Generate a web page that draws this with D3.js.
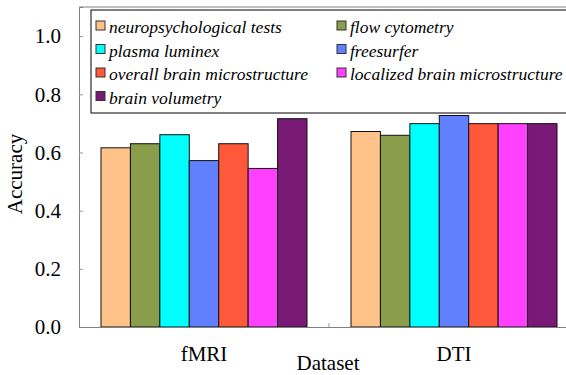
<!DOCTYPE html>
<html>
<head>
<script src="https://d3js.org/d3.v7.min.js"></script>
<style>
  body { margin: 0; background: #fff; }
  svg text { font-family: "Liberation Serif", "Times New Roman", Times, "DejaVu Serif", serif; }
</style>
</head>
<body>
<svg width="566" height="375"></svg>
<script>
var datasets = ["fMRI", "DTI"];
var features = ["neuropsychological tests", "flow cytometry", "plasma luminex", "freesurfer",
                "overall brain microstructure", "localized brain microstructure", "brain volumetry"];
var colors = ["#ffc38a", "#8a9d4a", "#00ffff", "#6080ff", "#ff583a", "#ff40ff", "#7a1a77"];
var fmriAcc = [0.616, 0.630, 0.661, 0.572, 0.630, 0.545, 0.716];
var dtiAcc  = [0.672, 0.659, 0.699, 0.727, 0.699, 0.699, 0.699];
var yTicks = [0, 0.2, 0.4, 0.6, 0.8, 1.0];

var values = { fMRI: fmriAcc, DTI: dtiAcc };

var svg = d3.select("svg");
var margin = {top: 7, left: 79},
    width = 500, height = 320;
var g = svg.append("g").attr("transform", "translate(" + margin.left + "," + margin.top + ")");

var x0 = d3.scaleBand().domain(datasets).range([0, width]).paddingOuter(0.088).paddingInner(0.176);
var x1 = d3.scaleBand().domain(features).range([0, x0.bandwidth()]);
var y = d3.scaleLinear().domain([0, 1.1]).range([height, 0]);

// frame
g.append("line").attr("x1", 0).attr("x2", width).attr("y1", 0).attr("y2", 0).attr("stroke", "#808080");
g.append("line").attr("x1", width).attr("x2", width).attr("y1", 0).attr("y2", height).attr("stroke", "#808080");

// bars
datasets.forEach(function(ds) {
  g.append("g").selectAll("rect")
    .data(values[ds])
    .enter().append("rect")
    .attr("x", function(d, i) { return x0(ds) + x1(features[i]); })
    .attr("y", function(d) { return y(d); })
    .attr("width", x1.bandwidth())
    .attr("height", function(d) { return height - y(d); })
    .attr("fill", function(d, i) { return colors[i]; })
    .attr("stroke", "#111")
    .attr("stroke-width", 1);
});

// y axis
var yAxis = g.append("g")
  .call(d3.axisLeft(y).tickValues(yTicks).tickFormat(d3.format(".1f")).tickSize(-4).tickPadding(18));
yAxis.attr("font-family", null);
yAxis.select(".domain").attr("stroke", "#808080");
yAxis.selectAll(".tick line").attr("stroke", "#999");
yAxis.selectAll("text").attr("font-size", 21).attr("fill", "#000");

// x axis
var xAxis = g.append("g").attr("transform", "translate(0," + height + ")")
  .call(d3.axisBottom(x0).tickSize(0).tickPadding(19));
xAxis.attr("font-family", null);
xAxis.select(".domain").attr("stroke", "#808080");
xAxis.selectAll("text").attr("font-size", 21).attr("fill", "#000");
g.append("line")
  .attr("x1", width / 2).attr("x2", width / 2)
  .attr("y1", height).attr("y2", height - 4)
  .attr("stroke", "#999");

// axis titles
svg.append("text")
  .attr("transform", "translate(22,174) rotate(-90)")
  .attr("text-anchor", "middle")
  .attr("font-size", 21)
  .text("Accuracy");
svg.append("text")
  .attr("x", 328).attr("y", 370)
  .attr("text-anchor", "middle")
  .attr("font-size", 21)
  .text("Dataset");

// legend
var legend = svg.append("g").attr("transform", "translate(91,10)");
legend.append("rect")
  .attr("width", 490).attr("height", 103)
  .attr("fill", "#fff").attr("stroke", "#000").attr("stroke-width", 1);
features.forEach(function(f, i) {
  var col = i % 2, row = Math.floor(i / 2);
  var item = legend.append("g").attr("transform", "translate(" + (5 + col * 241) + "," + (17 + row * 23.5) + ")");
  item.append("rect")
    .attr("x", 0).attr("y", -6).attr("width", 9).attr("height", 9)
    .attr("fill", colors[i]).attr("stroke", "#333");
  item.append("text")
    .attr("x", 13).attr("y", 6)
    .attr("font-size", 17.5)
    .attr("font-style", "italic")
    .text(f);
});
</script>
</body>
</html>
